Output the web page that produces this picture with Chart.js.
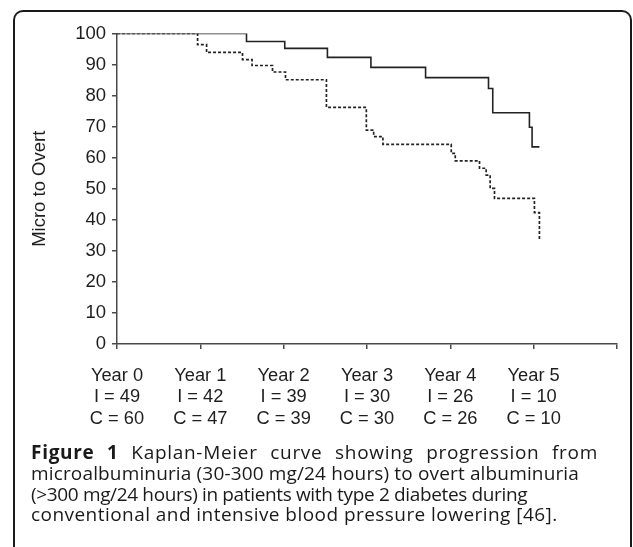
<!DOCTYPE html>
<html>
<head>
<meta charset="utf-8">
<script src="https://cdn.jsdelivr.net/npm/chart.js@4/dist/chart.umd.min.js"></script>
<style>
  html, body { margin: 0; padding: 0; background: #fff; width: 633px; height: 547px; overflow: hidden; }
  #frame { position: absolute; left: 13px; top: 10px; width: 619px; height: 600px;
           border: 2px solid #1a1a1a; border-bottom: none;
           border-top-left-radius: 10px; border-top-right-radius: 10px; box-sizing: border-box; }
  #c { position: absolute; left: 0; top: 0; }
  #caption { position: absolute; left: 31px; top: 442px; width: 567px;
             font-family: "Open Sans", sans-serif; font-size: 19px; line-height: 20.8px; color: #1a1a1a; }
  #caption div { white-space: nowrap; }
  #caption .j { text-align: justify; text-align-last: justify; letter-spacing: 0.7px; }
  #caption .l2 { letter-spacing: 0.15px; }
  #caption .l3 { letter-spacing: -0.35px; }
  #caption .l4 { letter-spacing: 0.45px; }
</style>
</head>
<body>
<div id="frame"></div>
<canvas id="c" width="633" height="440"></canvas>
<div id="caption">
  <div class="j"><b>Figure 1</b> Kaplan-Meier curve showing progression from</div>
  <div class="l2">microalbuminuria (30-300 mg/24 hours) to overt albuminuria</div>
  <div class="l3">(&gt;300 mg/24 hours) in patients with type 2 diabetes during</div>
  <div class="l4">conventional and intensive blood pressure lowering [46].</div>
</div>
<script>
// Time axis (years) and survival values (%)
const intensiveT = [0, 1.554, 2.013, 2.525, 3.047, 3.703, 4.458, 4.509, 4.949, 4.981, 5.069];
const intensiveV = [100, 97.4, 95.2, 92.3, 89.1, 85.8, 82.3, 74.5, 69.8, 63.5, 63.5];

const conventionalT = [0, 0.967, 1.075, 1.506, 1.621, 1.866, 2.022, 2.513, 2.992, 3.080, 3.191,
                       4.011, 4.059, 4.350, 4.430, 4.478, 4.530, 5.009, 5.069];
const conventionalV = [100, 96.4, 93.9, 91.6, 89.7, 87.6, 85.1, 76.2, 68.9, 66.8, 64.3,
                       61.4, 59.0, 56.6, 54.4, 50.1, 46.9, 42.3, 33.3];

// Tick labels
const yearLabels = ['Year 0', 'Year 1', 'Year 2', 'Year 3', 'Year 4', 'Year 5'];
const intensiveN = [49, 42, 39, 30, 26, 10];
const conventionalN = [60, 47, 39, 30, 26, 10];
const yTicks = [0, 10, 20, 30, 40, 50, 60, 70, 80, 90, 100];
const yTitle = 'Micro to Overt';

const toPts = (t, v) => t.map((x, i) => ({ x: x, y: v[i] }));
const axisColor = '#4a4a4a';
const textColor = '#1e1e1e';
const fam = '"Liberation Sans", Arial, sans-serif';

new Chart(document.getElementById('c'), {
  type: 'scatter',
  data: {
    datasets: [
      { label: 'Intensive', data: toPts(intensiveT, intensiveV), showLine: true, stepped: 'before',
        borderColor: '#222222', borderWidth: 1.6, pointRadius: 0, fill: false },
      { label: 'Conventional', data: toPts(conventionalT, conventionalV), showLine: true, stepped: 'before',
        borderColor: '#222222', borderWidth: 1.7, borderDash: [3, 2], pointRadius: 0, fill: false }
    ]
  },
  options: {
    responsive: false,
    animation: false,
    events: [],
    layout: { padding: { left: 20, top: 33.5, right: 15.3, bottom: 0 } },
    plugins: { legend: { display: false }, tooltip: { enabled: false } },
    scales: {
      x: {
        type: 'linear', min: 0, max: 6,
        afterFit: s => { s.height = 96; },
        border: { display: true, color: axisColor, width: 1.5 },
        grid: { drawOnChartArea: false, drawTicks: true, tickLength: 5, color: axisColor, lineWidth: 1.5 },
        afterBuildTicks: s => { s.ticks = [0, 1, 2, 3, 4, 5, 6].map(v => ({ value: v })); },
        ticks: {
          padding: 16, color: textColor, font: { family: fam, size: 18.3, lineHeight: 1.175 },
          maxRotation: 0, autoSkip: false,
          callback: (v) => {
            const i = Math.round(v);
            if (i >= yearLabels.length) return '';
            return [yearLabels[i], 'I = ' + intensiveN[i], 'C = ' + conventionalN[i]];
          }
        }
      },
      y: {
        min: 0, max: 100,
        afterFit: s => { s.width = 97; },
        afterBuildTicks: s => { s.ticks = yTicks.map(v => ({ value: v })); },
        border: { display: true, color: axisColor, width: 1.5 },
        grid: { drawOnChartArea: false, drawTicks: true, tickLength: 5, color: axisColor, lineWidth: 1.5 },
        ticks: { padding: 6, color: textColor, font: { family: fam, size: 18.5 } },
        title: { display: true, text: yTitle, color: textColor, padding: { top: 9, bottom: 0 },
                 font: { family: fam, size: 18.5 } }
      }
    }
  }
});
</script>
</body>
</html>
